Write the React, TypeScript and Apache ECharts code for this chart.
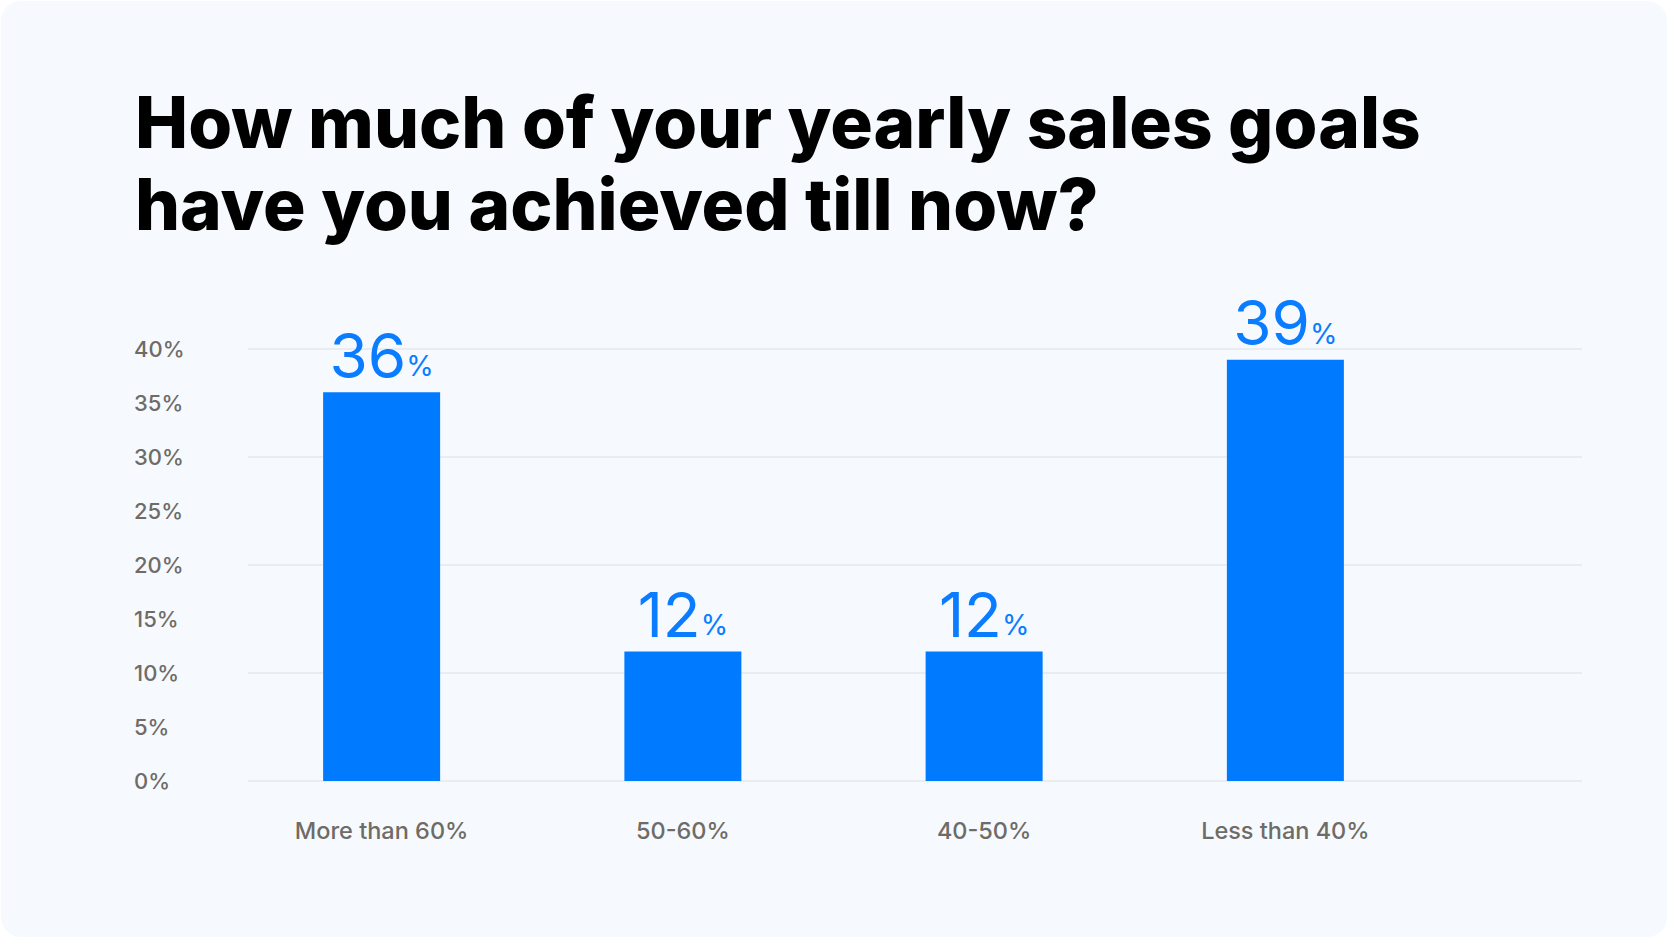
import React, { useEffect, useRef } from "react";
import * as echarts from "echarts";

const titleLines = ["How much of your yearly sales goals", "have you achieved till now?"];
const categories = ["More than 60%", "50-60%", "40-50%", "Less than 40%"];
const values = [36, 12, 12, 39];
const yMin = 0;
const yMax = 40;
const labelStep = 5;
const gridStep = 10;

export default function App() {
  const ref = useRef<HTMLDivElement>(null);
  useEffect(() => {
    if (!ref.current) return;
    const chart = echarts.init(ref.current, undefined, { renderer: "svg" });
    const gray = "#6f6b66";
    const font = "Inter, 'Noto Sans', sans-serif";
    chart.setOption({
      animation: false,
      backgroundColor: "#ffffff",
      graphic: [
        {
          type: "rect",
          z: -10,
          silent: true,
          shape: { x: 1, y: 1, width: 1666, height: 936, r: 20 },
          style: { fill: "#f6fafe" },
        },
      ],
      title: {
        text: titleLines.join("\n"),
        left: 130,
        top: 76,
        textStyle: {
          fontFamily: font,
          fontWeight: 800,
          fontSize: 71,
          lineHeight: 82,
          color: "#000000",
        },
      },
      grid: [
        { left: 231, right: 232, top: 349, bottom: 157, containLabel: false },
        { left: 248, right: 86, top: 349, bottom: 157, containLabel: false },
      ],
      xAxis: [
        {
          type: "category",
          gridIndex: 0,
          data: categories,
          axisLine: { show: false },
          axisTick: { show: false },
          splitLine: { show: false },
          axisLabel: {
            color: gray,
            fontFamily: font,
            fontWeight: 500,
            fontSize: 23.5,
            margin: 37,
          },
        },
        { type: "value", gridIndex: 1, show: false },
      ],
      yAxis: [
        { type: "value", gridIndex: 0, min: yMin, max: yMax, show: false },
        {
          type: "value",
          gridIndex: 1,
          position: "left",
          min: yMin,
          max: yMax,
          interval: gridStep,
          axisLine: { show: false },
          axisTick: { show: false },
          axisLabel: { show: false },
          splitLine: { show: true, lineStyle: { color: "#e9edf1", width: 2 } },
        },
        {
          type: "value",
          gridIndex: 1,
          position: "left",
          min: yMin,
          max: yMax,
          interval: labelStep,
          axisLine: { show: false },
          axisTick: { show: false },
          splitLine: { show: false },
          axisLabel: {
            formatter: "{value}%",
            align: "left",
            margin: 114,
            color: gray,
            fontFamily: font,
            fontWeight: 500,
            fontSize: 22,
          },
        },
      ],
      series: [
        {
          type: "bar",
          xAxisIndex: 0,
          yAxisIndex: 0,
          data: values,
          barWidth: 117,
          itemStyle: { color: "#007aff" },
          label: {
            show: true,
            position: "top",
            distance: 6,
            formatter: "{a|{c}}{b|%}",
            rich: {
              a: {
                fontFamily: font,
                fontWeight: 400,
                fontSize: 62,
                lineHeight: 62,
                color: "#0a7cff",
                verticalAlign: "bottom",
              },
              b: {
                fontFamily: font,
                fontWeight: 400,
                fontSize: 28,
                lineHeight: 30,
                color: "#0a7cff",
                verticalAlign: "bottom",
                padding: [0, 0, 6, 0],
              },
            },
          },
        },
      ],
    });
    return () => chart.dispose();
  }, []);
  return (
    <div
      ref={ref}
      style={{ position: "fixed", left: 0, top: 0, width: 1668, height: 938 }}
    />
  );
}
